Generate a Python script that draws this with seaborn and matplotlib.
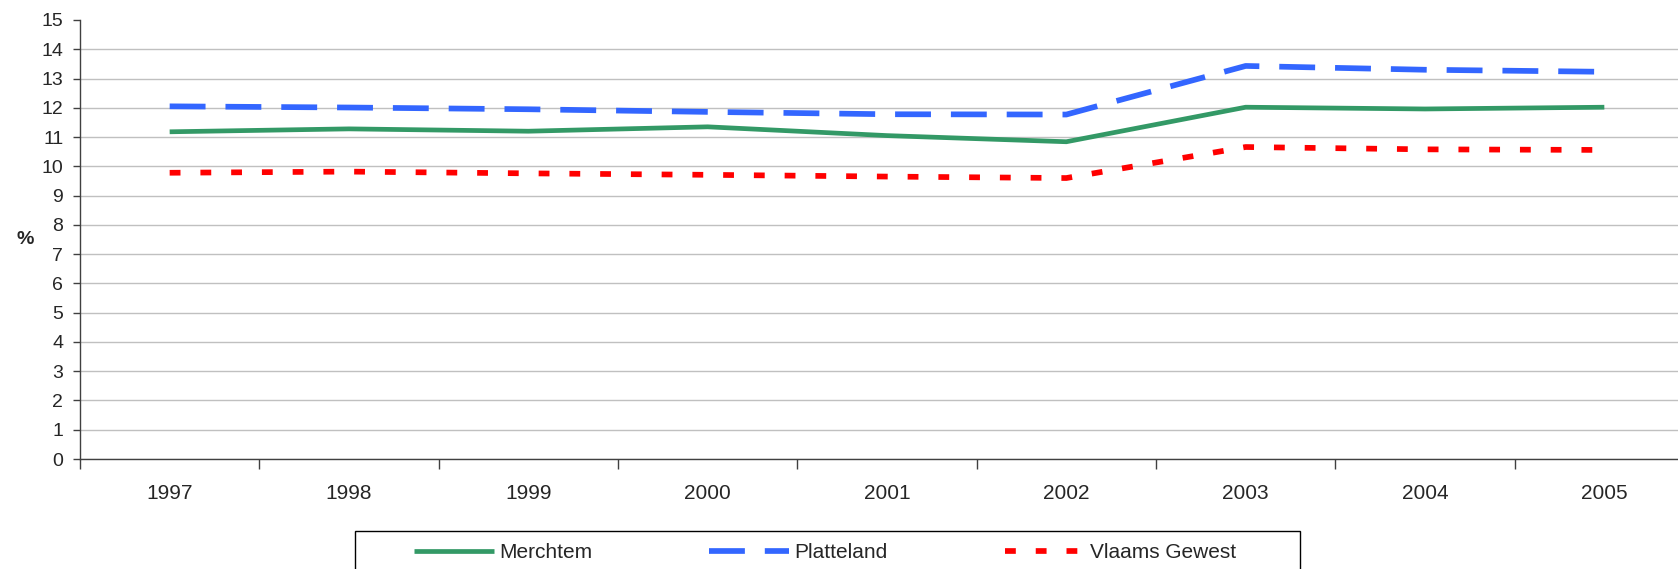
import pandas as pd
import matplotlib.pyplot as plt
import seaborn as sns
from matplotlib.patches import Rectangle
from matplotlib.ticker import FixedLocator

# Data
years = [1997, 1998, 1999, 2000, 2001, 2002, 2003, 2004, 2005]
merchtem = [11.18, 11.28, 11.20, 11.35, 11.05, 10.84, 12.02, 11.96, 12.02]
platteland = [12.05, 12.01, 11.95, 11.86, 11.78, 11.77, 13.43, 13.30, 13.23]
vlaams = [9.78, 9.82, 9.76, 9.71, 9.65, 9.60, 10.66, 10.58, 10.56]

sns.set_style('white')
plt.rcParams['font.family'] = ['Liberation Sans', 'DejaVu Sans']

fig = plt.figure(figsize=(16.78, 5.69), dpi=100)
ax = fig.add_axes([80 / 1678, 1 - 459 / 569, 1614 / 1678, 439 / 569])

# Series styles: (values, label, colour, linewidth, dashes)
series = [
    (merchtem, 'Merchtem', '#339966', 3.4, None),
    (platteland, 'Platteland', '#3366FF', 4.1, (6.3, 3.5)),
    (vlaams, 'Vlaams Gewest', '#FF0000', 4.1, (1.9, 3.5)),
]

handles = []
for vals, label, color, lw, dashes in series:
    df = pd.DataFrame({'year': years, 'value': vals})
    sns.lineplot(data=df, x='year', y='value', ax=ax, color=color, linewidth=lw, label=label)
    line = ax.lines[-1]
    line.set_solid_capstyle('butt')
    line.set_dash_capstyle('butt')
    if dashes is not None:
        line.set_dashes(dashes)
    handles.append(line)

ax.get_legend().remove()

ax.set_xlim(years[0] - 0.5, years[-1] + 0.5)
ax.set_ylim(0, 15)
ax.yaxis.set_major_locator(FixedLocator(range(0, 16)))
ax.set_xticks(years)
ax.set_xticklabels([str(y) for y in years])
# category boundary ticks, Excel style
ax.xaxis.set_minor_locator(FixedLocator([y + 0.5 for y in [years[0] - 1] + years]))

ax.tick_params(axis='x', which='major', length=0, pad=18, labelsize=15)
ax.tick_params(axis='x', which='minor', length=7, width=1, color='#404040', bottom=True)
ax.tick_params(axis='y', length=5, width=1, color='#404040', pad=7, labelsize=14, left=True)

ax.grid(axis='y', color='#C0C0C0', linewidth=1)
ax.set_axisbelow(True)
fig.canvas.draw()
for tick in ax.yaxis.get_major_ticks():
    if tick.get_loc() >= 15:
        tick.gridline.set_visible(False)

for side in ['top', 'right']:
    ax.spines[side].set_visible(False)
for side in ['left', 'bottom']:
    ax.spines[side].set_color('#404040')
    ax.spines[side].set_linewidth(1)

ax.set_xlabel('')
ax.set_ylabel('%', rotation=0, fontsize=14, fontweight='bold', labelpad=12, va='center')

fig.legend(handles=handles, labels=[s[1] for s in series], loc='center left',
           bbox_to_anchor=(414 / 1678, 1 - 553 / 569), ncol=3, frameon=False,
           borderpad=0, borderaxespad=0, handlelength=3.85, handletextpad=0.25,
           columnspacing=5.6, fontsize=15)
fig.patches.append(Rectangle((355 / 1678, -0.1), 945 / 1678, 0.1 + 1 - 531 / 569,
                             transform=fig.transFigure, fill=False,
                             edgecolor='black', linewidth=1))

fig.savefig('out.png', dpi=100)
